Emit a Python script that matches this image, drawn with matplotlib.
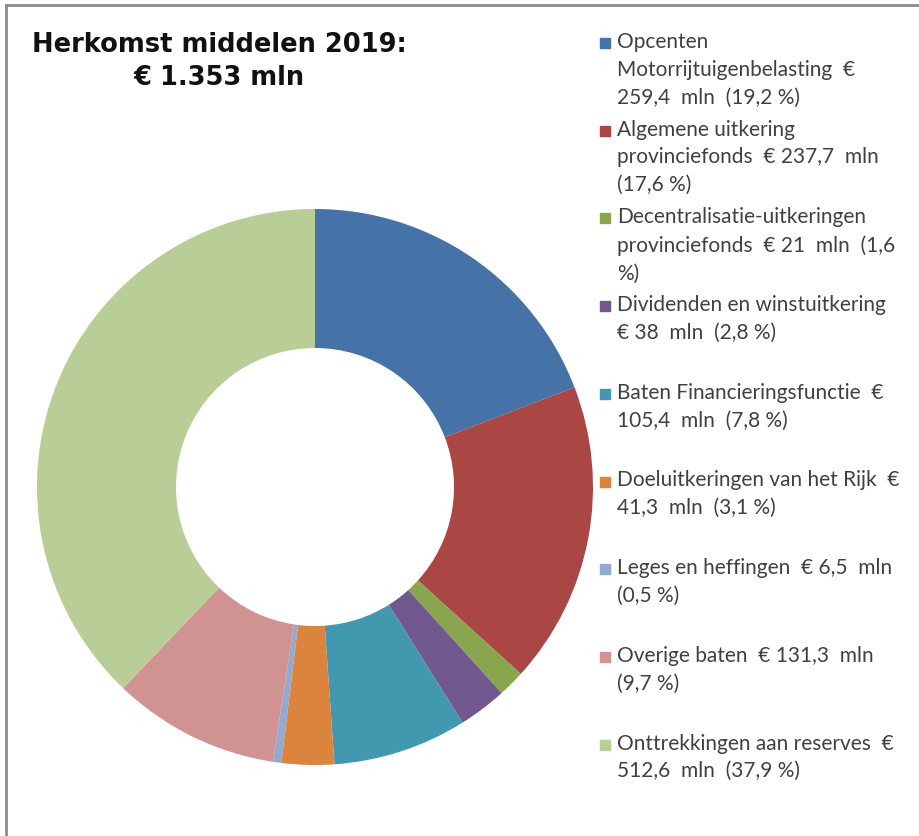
import matplotlib.pyplot as plt
from matplotlib.patches import Rectangle

# Herkomst middelen 2019 (in mln euro)
categories = [
    "Opcenten Motorrijtuigenbelasting",
    "Algemene uitkering provinciefonds",
    "Decentralisatie-uitkeringen provinciefonds",
    "Dividenden en winstuitkering",
    "Baten Financieringsfunctie",
    "Doeluitkeringen van het Rijk",
    "Leges en heffingen",
    "Overige baten",
    "Onttrekkingen aan reserves",
]
values = [259.4, 237.7, 21, 38, 105.4, 41.3, 6.5, 131.3, 512.6]
legend_labels = [
    "Opcenten\nMotorrijtuigenbelasting  €\n259,4  mln  (19,2 %)",
    "Algemene uitkering\nprovinciefonds  € 237,7  mln\n(17,6 %)",
    "Decentralisatie-uitkeringen\nprovinciefonds  € 21  mln  (1,6\n%)",
    "Dividenden en winstuitkering\n€ 38  mln  (2,8 %)",
    "Baten Financieringsfunctie  €\n105,4  mln  (7,8 %)",
    "Doeluitkeringen van het Rijk  €\n41,3  mln  (3,1 %)",
    "Leges en heffingen  € 6,5  mln\n(0,5 %)",
    "Overige baten  € 131,3  mln\n(9,7 %)",
    "Onttrekkingen aan reserves  €\n512,6  mln  (37,9 %)",
]
colors = ["#4572A7", "#AA4643", "#89A54E", "#71588F", "#4198AF",
          "#DB843D", "#93A9CF", "#D19392", "#B9CD96"]

W, H = 919, 836
fig = plt.figure(figsize=(W / 100, H / 100), dpi=100)

# donut
ax = fig.add_axes([37 / W, (H - 765) / H, 556 / W, 556 / H])
ax.pie(values, colors=colors, startangle=90, counterclock=False,
       wedgeprops=dict(width=0.5, linewidth=0))
ax.set_xlim(-1, 1)
ax.set_ylim(-1, 1)
ax.set_aspect("equal")

# title
fig.text(219 / W, 1 - 45 / H, "Herkomst middelen 2019:", ha="center", va="center",
         fontsize=18.5, fontweight="bold", family="DejaVu Sans", color="#111111")
fig.text(219 / W, 1 - 78 / H, "€ 1.353 mln", ha="center", va="center",
         fontsize=18.5, fontweight="bold", family="DejaVu Sans", color="#111111")

# legend, one entry every ~88 px
for i, (lab, col) in enumerate(zip(legend_labels, colors)):
    y = 43 + 87.7 * i
    fig.patches.append(Rectangle((600 / W, 1 - (y + 5) / H), 10 / W, 10 / H,
                                 transform=fig.transFigure, color=col))
    fig.text(617 / W, 1 - (y - 11) / H, lab, ha="left", va="top", fontsize=15,
             family="Lato", color="#404040", linespacing=1.48)

# frame of the original picture (left and top edges)
fig.add_artist(plt.Line2D([6 / W, 6 / W], [0, 1 - 5 / H], transform=fig.transFigure,
                          color="#8c8c8c", lw=2))
fig.add_artist(plt.Line2D([6 / W, 1], [1 - 5 / H, 1 - 5 / H], transform=fig.transFigure,
                          color="#8c8c8c", lw=2))

fig.savefig("out.png", dpi=100)
